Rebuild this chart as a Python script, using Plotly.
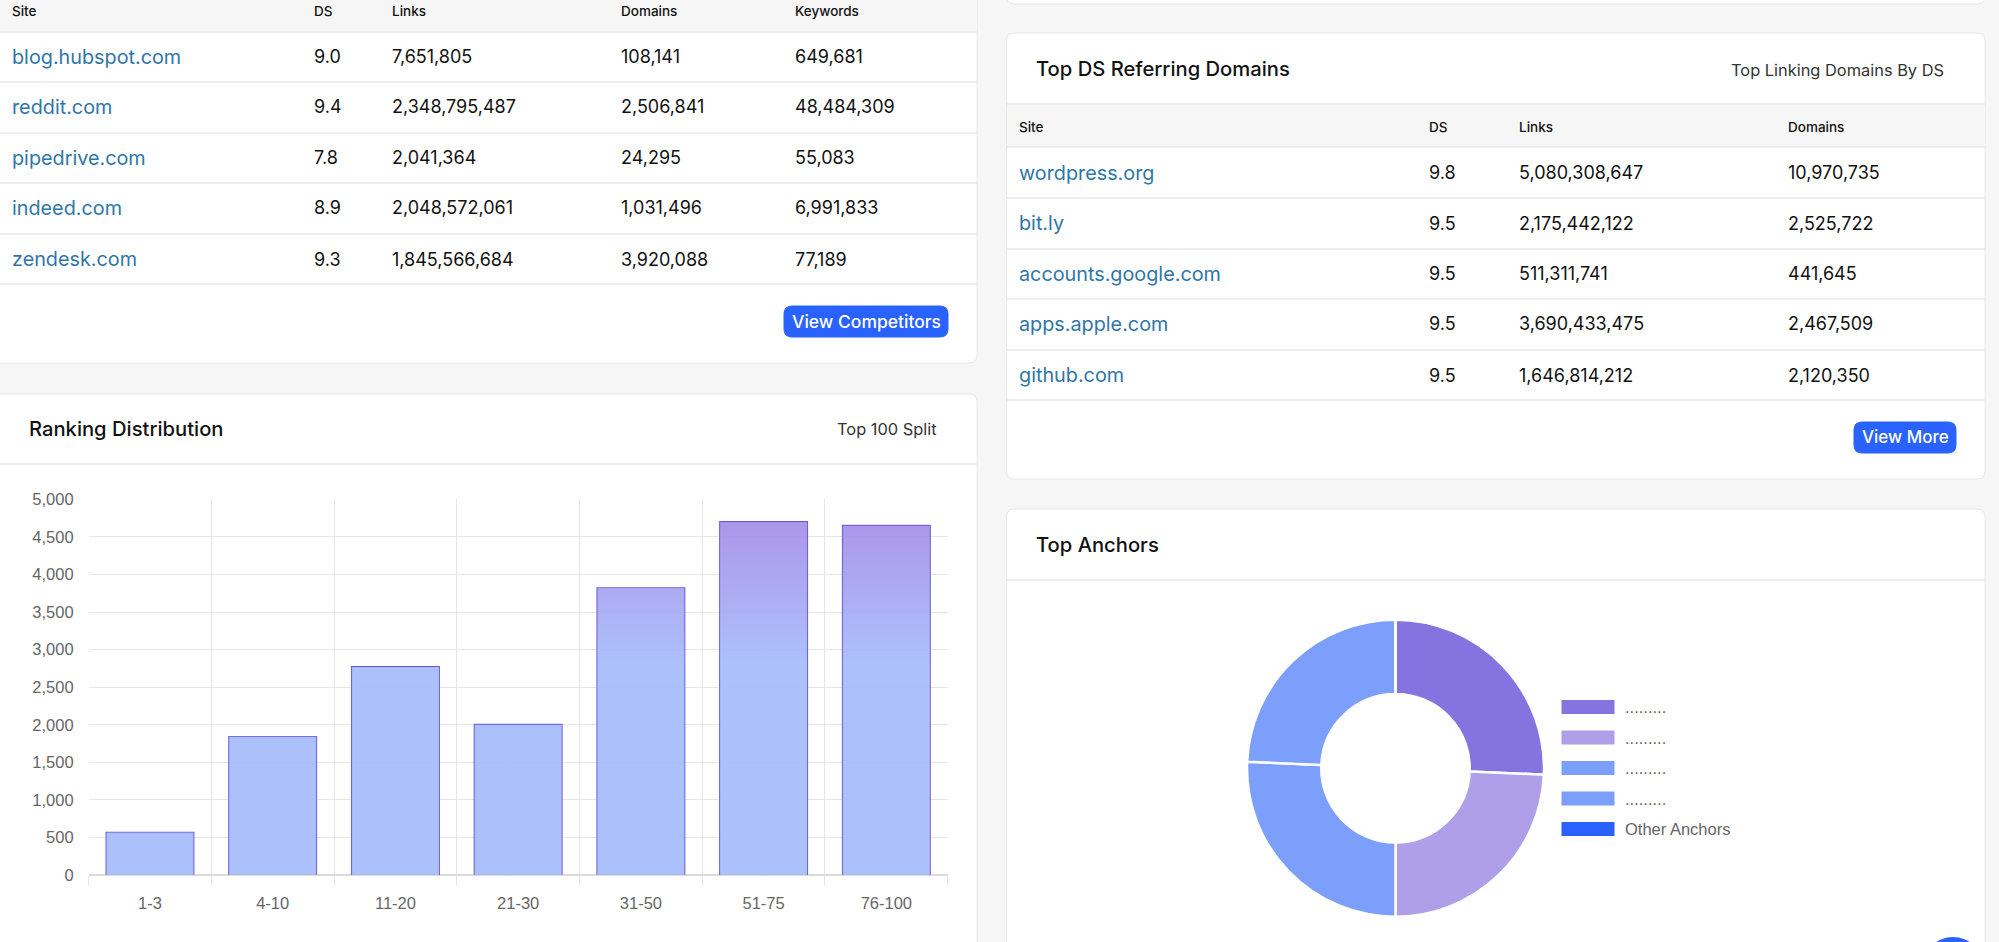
import plotly.graph_objects as go

W, H = 1999, 942

# ---- data ----
comp_sites = ["blog.hubspot.com", "reddit.com", "pipedrive.com", "indeed.com", "zendesk.com"]
comp_ds = ["9.0", "9.4", "7.8", "8.9", "9.3"]
comp_links = ["7,651,805", "2,348,795,487", "2,041,364", "2,048,572,061", "1,845,566,684"]
comp_domains = ["108,141", "2,506,841", "24,295", "1,031,496", "3,920,088"]
comp_keywords = ["649,681", "48,484,309", "55,083", "6,991,833", "77,189"]

ref_sites = ["wordpress.org", "bit.ly", "accounts.google.com", "apps.apple.com", "github.com"]
ref_ds = ["9.8", "9.5", "9.5", "9.5", "9.5"]
ref_links = ["5,080,308,647", "2,175,442,122", "511,311,741", "3,690,433,475", "1,646,814,212"]
ref_domains = ["10,970,735", "2,525,722", "441,645", "2,467,509", "2,120,350"]

rank_labels = ["1-3", "4-10", "11-20", "21-30", "31-50", "51-75", "76-100"]
rank_values = [565, 1840, 2770, 2000, 3820, 4700, 4650]

anchor_labels = [".........", ".........", ".........", ".........", "Other Anchors"]
anchor_values = [25.7, 24.3, 25.7, 24.3, 0]
anchor_colors = ["#8573e0", "#ae9fe8", "#7d9ffc", "#7d9ffc", "#2962ff"]

# ---- helpers ----
def px(x): return x / W
def py(y): return 1 - y / H

TEXT_FONT = "Inter"
AXIS_FONT = "Liberation Sans"
shapes, notes = [], []

def rrect(x0, y0, x1, y1, r, fill, line=None, lw=1):
    path = (f"M {px(x0+r)} {py(y0)} L {px(x1-r)} {py(y0)} Q {px(x1)} {py(y0)} {px(x1)} {py(y0+r)} "
            f"L {px(x1)} {py(y1-r)} Q {px(x1)} {py(y1)} {px(x1-r)} {py(y1)} "
            f"L {px(x0+r)} {py(y1)} Q {px(x0)} {py(y1)} {px(x0)} {py(y1-r)} "
            f"L {px(x0)} {py(y0+r)} Q {px(x0)} {py(y0)} {px(x0+r)} {py(y0)} Z")
    shapes.append(dict(type="path", path=path, xref="paper", yref="paper", fillcolor=fill,
                       line=dict(color=line or fill, width=lw), layer="below"))

def rect(x0, y0, x1, y1, fill):
    shapes.append(dict(type="rect", x0=px(x0), x1=px(x1), y0=py(y1), y1=py(y0), xref="paper", yref="paper",
                       fillcolor=fill, line=dict(width=0), layer="below"))

def hline(x0, x1, y, color="#e9e9e9", w=1.5):
    shapes.append(dict(type="line", x0=px(x0), x1=px(x1), y0=py(y), y1=py(y), xref="paper", yref="paper",
                       line=dict(color=color, width=w), layer="below"))

def text(x, y, s, size=18, color="#111111", anchor="left", weight=400, family=TEXT_FONT):
    notes.append(dict(x=px(x), y=py(y), xref="paper", yref="paper", text=s, showarrow=False,
                      xanchor=anchor, yanchor="middle", borderpad=0,
                      font=dict(family=family, size=size, color=color, weight=weight)))

def table(cols, xs, header_y, row_ys, header_names, lines, hdr_y0, hdr_y1, x0, x1):
    rect(x0, hdr_y0, x1, hdr_y1, "#f6f6f6")
    for y in [hdr_y1] + lines:
        hline(x0, x1, y)
    for name, x in zip(header_names, xs):
        text(x, header_y, name, size=13.5, weight=500)
    for ci, (col, x) in enumerate(zip(cols, xs)):
        for val, y in zip(col, row_ys):
            if ci == 0:
                text(x, y, val, size=19.8, color="#2f76a8")
            else:
                text(x, y, val, size=18)

# ---- cards ----
BORDER = "#e8e8e8"
rrect(-10, -20, 977, 363, 8, "#ffffff", BORDER)
rrect(1006.5, -20, 1985, 4, 8, "#ffffff", BORDER)
rrect(1006.5, 33, 1985, 479, 8, "#ffffff", BORDER)
rrect(-10, 394, 977, 960, 8, "#ffffff", BORDER)
rrect(1006.5, 509, 1985, 960, 8, "#ffffff", BORDER)

# left table
table([comp_sites, comp_ds, comp_links, comp_domains, comp_keywords],
      [10.5, 312.5, 390.5, 620, 793.5], 10.5, [57, 107, 158, 208, 259],
      ["Site", "DS", "Links", "Domains", "Keywords"],
      [82, 133, 183, 234, 284], 0, 32, 0, 977)
rrect(784, 306, 948, 337, 8, "#2962ff")
text(866, 321, "View Competitors", size=17.5, color="#ffffff", anchor="center", weight=500)

# right table
text(1034.5, 69, "Top DS Referring Domains", size=20.2, weight=500)
text(1945, 70, "Top Linking Domains By DS", size=16.4, color="#333333", anchor="right")
table([ref_sites, ref_ds, ref_links, ref_domains],
      [1017.5, 1427.5, 1517.5, 1787], 126.5, [173, 223, 274, 324, 375],
      ["Site", "DS", "Links", "Domains"],
      [198, 249, 299, 350, 400], 104, 147, 1007, 1985)
hline(1007, 1985, 104)
rrect(1854, 422, 1956, 453, 8, "#2962ff")
text(1905, 437, "View More", size=17, color="#ffffff", anchor="center", weight=500)

# chart card headers
text(27.5, 428, "Ranking Distribution", size=20.2, weight=500)
text(937.5, 429, "Top 100 Split", size=16.4, color="#333333", anchor="right")
hline(0, 977, 464)
text(1034.5, 544, "Top Anchors", size=20.2, weight=500)
hline(1007, 1985, 580)

# doughnut legend (wide swatches)
swatch_ys = [707, 737.5, 768, 798.5, 829]
for lab, col, y in zip(anchor_labels, anchor_colors, swatch_ys):
    rect(1561.5, y - 7, 1614.5, y + 7, col)
    text(1623.5, y, lab, size=16.5, color="#666666", family=AXIS_FONT)

# chat bubble peeking in at the bottom edge
shapes.append(dict(type="circle", x0=px(1923), x1=px(1983), y0=py(997), y1=py(937), xref="paper", yref="paper",
                   fillcolor="#2962ff", line=dict(width=0)))

# ---- figure ----
fig = go.Figure()

BAR_WIDTH = 0.71
xs, ys = [], []
for i, v in enumerate(rank_values):
    a, b = i - BAR_WIDTH / 2, i + BAR_WIDTH / 2
    xs += [a, b, b, a, a, None]
    ys += [0, 0, v, v, 0, None]

fig.add_trace(go.Scatter(
    x=xs, y=ys, mode="lines", fill="toself", line=dict(width=0), hoverinfo="skip", showlegend=False,
    fillgradient=dict(type="vertical", start=0, stop=4700,
                      colorscale=[[0, "rgba(168,189,252,0.95)"], [0.6, "rgba(168,189,252,0.95)"],
                                  [0.85, "rgba(168,162,240,0.95)"], [1, "rgba(167,145,232,0.95)"]]),
))
fig.add_trace(go.Bar(
    x=list(range(len(rank_values))), y=rank_values, width=BAR_WIDTH, showlegend=False,
    marker=dict(color="rgba(0,0,0,0)", line=dict(color="#6a58d0", width=1.8)),
    hovertext=rank_labels,
))
fig.add_trace(go.Pie(
    labels=[f"{l} {i}" for i, l in enumerate(anchor_labels)], values=anchor_values, hole=0.5, sort=False,
    direction="clockwise", rotation=0, textinfo="none", showlegend=False, automargin=False,
    marker=dict(colors=anchor_colors, line=dict(color="#ffffff", width=2.5)),
    domain=dict(x=[px(1247), px(1544)], y=[py(916.7), py(619.7)]),
))

GRID = "#e6e6e6"
fig.update_layout(
    width=W, height=H, margin=dict(l=0, r=0, t=0, b=0, pad=0), autosize=False,
    paper_bgcolor="#f6f6f6", plot_bgcolor="rgba(0,0,0,0)",
    shapes=shapes, annotations=notes, bargap=0.29,
    font=dict(family=AXIS_FONT, color="#666666", size=16.5),
    xaxis=dict(domain=[px(88.6), px(947.7)], range=[-0.5, 6.5], anchor="y", automargin=False,
               tickmode="array", tickvals=list(range(len(rank_labels))), ticktext=rank_labels,
               ticks="outside", ticklen=13, tickcolor="rgba(0,0,0,0)", showgrid=False, zeroline=False,
               showline=False, tickfont=dict(family=AXIS_FONT, size=16.5, color="#666666"),
               minor=dict(tickmode="array", tickvals=[i - 0.5 for i in range(len(rank_labels) + 1)],
                          ticks="outside", ticklen=10, tickcolor=GRID, tickwidth=1,
                          showgrid=True, gridcolor=GRID, gridwidth=1)),
    yaxis=dict(domain=[py(875), py(499.4)], range=[0, 5000], anchor="x", automargin=False,
               tickmode="array", tickvals=[0, 500, 1000, 1500, 2000, 2500, 3000, 3500, 4000, 4500, 5000],
               tickformat=",d", ticks="", showgrid=True, gridcolor=GRID, gridwidth=1.2,
               zeroline=True, zerolinecolor="#dcdcdc", zerolinewidth=1.5, ticklabelstandoff=14,
               tickfont=dict(family=AXIS_FONT, size=16.5, color="#666666")),
)

fig.write_html("out.html", config=dict(displayModeBar=False),
               post_script="document.body.style.margin='0';document.body.style.overflow='hidden';"
                           "document.body.style.background='#f6f6f6';")
